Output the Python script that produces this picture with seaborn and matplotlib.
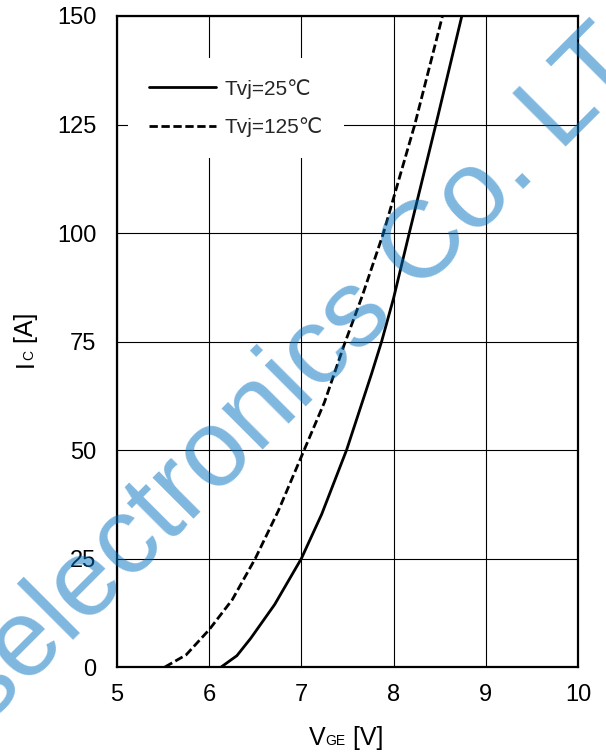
import matplotlib
matplotlib.use("Agg")
import matplotlib.pyplot as plt
import seaborn as sns
import pandas as pd

# ---- data ----
vge_25 = [6.13, 6.30, 6.45, 6.71, 7.00, 7.22, 7.49, 7.76, 7.87, 8.00, 8.17, 8.47, 8.74]
ic_25 = [0, 2.6, 6.6, 14.4, 25, 35.2, 50, 67.5, 75, 85, 100, 126, 150]
vge_125 = [5.52, 5.75, 6.00, 6.25, 6.50, 6.75, 7.00, 7.25, 7.46, 7.66, 7.89, 8.23, 8.53]
ic_125 = [0, 2.8, 8.6, 15.5, 25, 36, 48.5, 61, 74, 85.5, 100, 125, 150]
labels = ["Tvj=25\u2103", "Tvj=125\u2103"]
x_ticks = [5, 6, 7, 8, 9, 10]
y_ticks = [0, 25, 50, 75, 100, 125, 150]
watermark = "selectronics Co. LT"

df = pd.concat([
    pd.DataFrame({"VGE": vge_25, "IC": ic_25, "curve": labels[0]}),
    pd.DataFrame({"VGE": vge_125, "IC": ic_125, "curve": labels[1]}),
])

sns.set_theme(style="white")
plt.rcParams["font.family"] = ["Liberation Sans", "DejaVu Sans"]

W, H = 606, 756
fig = plt.figure(figsize=(W / 100, H / 100), dpi=100)
ax = fig.add_axes([117 / W, 1 - 667 / H, 461 / W, 651 / H])

sns.lineplot(data=df, x="VGE", y="IC", style="curve", color="black",
             dashes={labels[0]: "", labels[1]: (3.0, 1.3)},
             estimator=None, sort=True, linewidth=2.0, ax=ax, legend=True)
for ln in ax.get_lines():
    ln.set_solid_joinstyle("round")
    ln.set_dash_joinstyle("round")

ax.set_xlim(5, 10)
ax.set_ylim(0, 150)
ax.set_xticks(x_ticks)
ax.set_yticks(y_ticks)
ax.grid(True, color="black", linewidth=0.8)
ax.set_axisbelow(True)
for s in ax.spines.values():
    s.set_color("black")
    s.set_linewidth(1.6)
ax.tick_params(length=0, labelsize=17, colors="black")
ax.tick_params(axis="y", pad=15)
ax.tick_params(axis="x", pad=12)
ax.set_xlabel("")
ax.set_ylabel("")

leg = ax.legend(loc="upper left", bbox_to_anchor=(128 / W, 1 - 58 / H),
                bbox_transform=fig.transFigure, frameon=True, fancybox=False,
                framealpha=1, facecolor="white", edgecolor="none", fontsize=15,
                handlelength=3.2, handletextpad=0.43, labelspacing=0.9,
                borderpad=1.0, borderaxespad=0)
leg.set_zorder(5)

# ---- composite axis labels (small subscripts on the baseline) ----
renderer = fig.canvas.get_renderer()

def chain_h(x_px, y_px, parts):
    x = x_px
    for txt, size in parts:
        t = fig.text(x / W, 1 - y_px / H, txt, fontsize=size, ha="left",
                     va="baseline", color="black")
        x = t.get_window_extent(renderer).x1

def chain_v(x_px, y_px, parts):
    y = H - y_px
    for txt, size in parts:
        t = fig.text(x_px / W, y / H, txt, fontsize=size, ha="left",
                     va="baseline", rotation=90, rotation_mode="anchor",
                     color="black")
        y = t.get_window_extent(renderer).y1

chain_h(309, 745, [("V", 18), ("GE", 10), (" [V]", 18)])
chain_v(33, 367, [("I", 18), ("C", 10), (" [A]", 18)])

# ---- watermark ----
fig.text(-14 / W, 1 - 726 / H, watermark, fontsize=79,
         rotation=45, rotation_mode="anchor", ha="left", va="baseline",
         color="#0070C0", alpha=0.5, zorder=10)

fig.savefig("out.png", dpi=100)
